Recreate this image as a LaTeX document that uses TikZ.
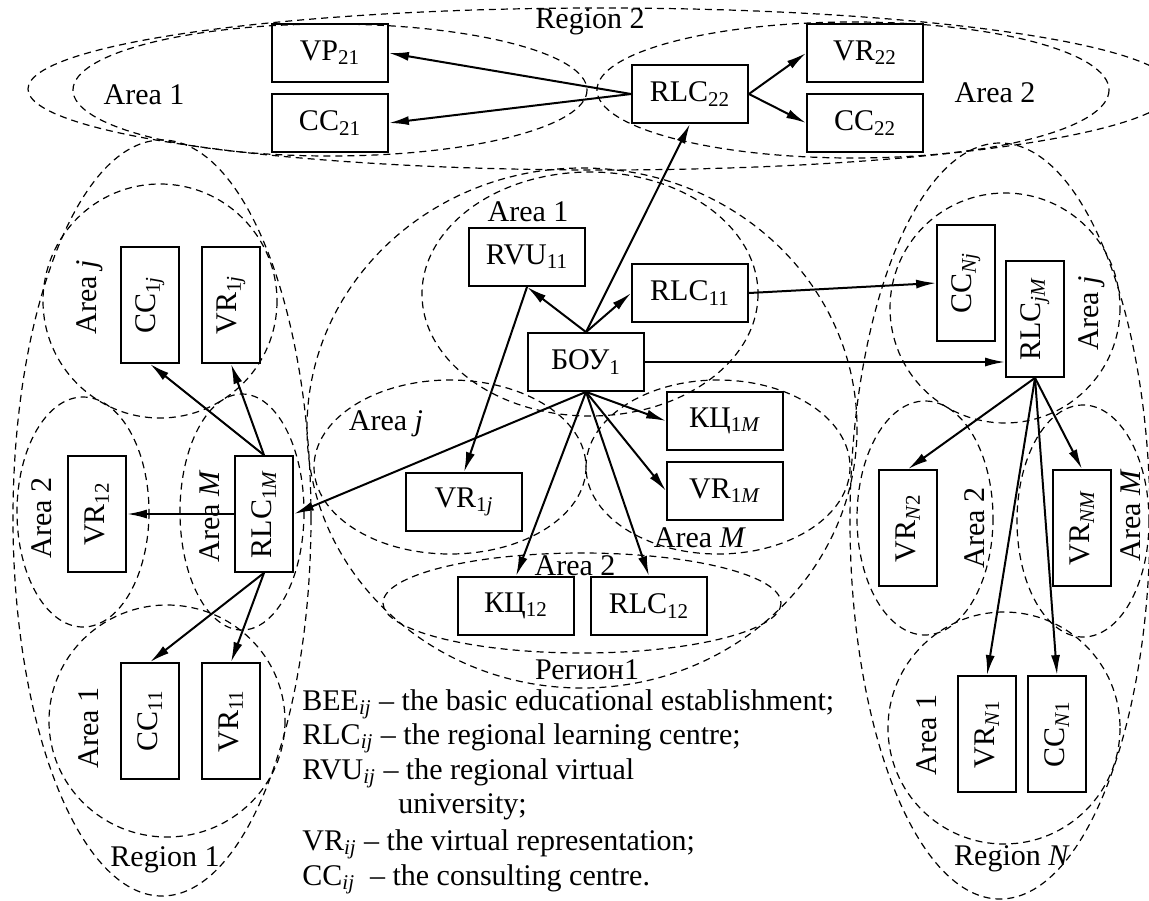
\documentclass[tikz,border=0pt]{standalone}
\usepackage{fontspec}
\setmainfont{Liberation Serif}
\usetikzlibrary{arrows.meta}
\newcommand{\rot}[1]{\rotatebox{90}{#1}}
\newcommand{\sbs}[1]{\textsubscript{#1}}

\begin{document}
\begin{tikzpicture}
        [x=0.5pt,y=-0.5pt,every node/.style={font=\fontsize{15}{17}\selectfont},
        box/.style={draw,line width=0.9pt,minimum width=58pt,minimum height=29pt,inner sep=0pt},
        vbox/.style={draw,line width=0.9pt,minimum width=29pt,minimum height=58pt,inner sep=0pt},
        area/.style={line width=0.6pt,dash pattern=on 3.5pt off 2.5pt},
        link/.style={line width=1pt,-{Latex[length=10pt,width=4.5pt]}},
        note/.style={anchor=base west,inner sep=0pt}]

        \useasboundingbox (0,0) rectangle (1149,900);

        % Region 2
        \draw[area] (601,89) ellipse [x radius=573,y radius=81];
        \draw[area] (330,90) ellipse [x radius=257,y radius=66];
        \draw[area] (853,90) ellipse [x radius=256,y radius=68];
        % Region 1 (left)
        \draw[area] (162,518) ellipse [x radius=149,y radius=378];
        \draw[area] (160,301) ellipse [x radius=117,y radius=117];
        \draw[area] (83,512) ellipse [x radius=66,y radius=115];
        \draw[area] (242,512) ellipse [x radius=62,y radius=118];
        \draw[area] (167,721) ellipse [x radius=118,y radius=116];
        % Region 1 (centre)
        \draw[area] (582,428) ellipse [x radius=275,y radius=260];
        \draw[area] (590,294) ellipse [x radius=168,y radius=122];
        \draw[area] (450,467) ellipse [x radius=136,y radius=87];
        \draw[area] (718,467) ellipse [x radius=132,y radius=87];
        \draw[area] (582,603) ellipse [x radius=199,y radius=50];
        % Region N
        \draw[area] (1000,521) ellipse [x radius=150,y radius=378];
        \draw[area] (1005,308) ellipse [x radius=115,y radius=115];
        \draw[area] (925,518) ellipse [x radius=68,y radius=117];
        \draw[area] (1083,521) ellipse [x radius=66,y radius=116];
        \draw[area] (1004,728) ellipse [x radius=116,y radius=116];

        \node (r2) at (590,22) {Region 2};
        \node (a21) at (144,95) {Area 1};
        \node (a22) at (995,93) {Area 2};
        \node[rotate=90] (a1j) at (90,297) {Area \textit{j}};
        \node[rotate=90] (a12) at (42,518) {Area 2};
        \node[rotate=90] (a1m) at (210,516) {Area \textit{M}};
        \node[rotate=90] (a11) at (89,728) {Area 1};
        \node (r1) at (165,860) {Region 1};
        \node (c1) at (528,212) {Area 1};
        \node (cj) at (386,424) {Area \textit{j}};
        \node (cm) at (700,538) {Area \textit{M}};
        \node (c2) at (575,566) {Area 2};
        \node (rc) at (587,670) {Регион1};
        \node[rotate=90] (anj) at (1092,313) {Area \textit{j}};
        \node[rotate=90] (an2) at (975,528) {Area 2};
        \node[rotate=90] (anm) at (1131,515) {Area \textit{M}};
        \node[rotate=90] (an1) at (927,735) {Area 1};
        \node (rn) at (1012,859) {Region \textit{N}};

        \node[box] (vp21) at (330,53) {VP\sbs{21}};
        \node[box] (cc21) at (330,123) {CC\sbs{21}};
        \node[box] (rlc22) at (690,94) {RLC\sbs{22}};
        \node[box] (vr22) at (865,53) {VR\sbs{22}};
        \node[box] (cc22) at (865,123) {CC\sbs{22}};
        \node[box] (rvu11) at (527,257) {RVU\sbs{11}};
        \node[box] (rlc11) at (690,293) {RLC\sbs{11}};
        \node[box] (boy1) at (586,362) {БОУ\sbs{1}};
        \node[box] (kc1m) at (725,421) {КЦ\sbs{1\textit{M}}};
        \node[box] (vr1m) at (725,491) {VR\sbs{1\textit{M}}};
        \node[box] (vr1j) at (464,502) {VR\sbs{1\textit{j}}};
        \node[box] (kc12) at (516,606) {КЦ\sbs{12}};
        \node[box] (rlc12) at (649,606) {RLC\sbs{12}};

        \node[vbox] (cc1j) at (150,305) {\rot{CC\sbs{1\textit{j}}}};
        \node[vbox] (lvr1j) at (231,305) {\rot{VR\sbs{1\textit{j}}}};
        \node[vbox] (vr12) at (97,514) {\rot{VR\sbs{12}}};
        \node[vbox] (rlc1m) at (264,514) {\rot{RLC\sbs{1\textit{M}}}};
        \node[vbox] (cc11) at (150,721) {\rot{CC\sbs{11}}};
        \node[vbox] (vr11) at (231,721) {\rot{VR\sbs{11}}};

        \node[vbox] (ccnj) at (966,283) {\rot{CC\sbs{\textit{Nj}}}};
        \node[vbox] (rlcjm) at (1035,319) {\rot{RLC\sbs{\textit{jM}}}};
        \node[vbox] (vrn2) at (908,528) {\rot{VR\sbs{\textit{N}2}}};
        \node[vbox] (vrnm) at (1082,528) {\rot{VR\sbs{\textit{NM}}}};
        \node[vbox] (vrn1) at (987,734) {\rot{VR\sbs{\textit{N}1}}};
        \node[vbox] (ccn1) at (1057,734) {\rot{CC\sbs{\textit{N}1}}};

        \draw[link] (rlc22.west) -- (vp21.east);
        \draw[link] (rlc22.west) -- (cc21.east);
        \draw[link] (rlc22.east) -- (vr22.west);
        \draw[link] (rlc22.east) -- (cc22.west);
        \draw[link] (boy1.north) -- (rlc22.south);
        \draw[link] (boy1.north) -- (rvu11.south);
        \draw[link] (boy1.north) -- (rlc11.west);
        \draw[link] (rlc11.east) -- (ccnj.west);
        \draw[link] (boy1.east) -- (boy1.east -| rlcjm.west);
        \draw[link] (boy1.south) -- (rlc1m.east);
        \draw[link] (boy1.south) -- (kc1m.west);
        \draw[link] (boy1.south) -- (vr1m.west);
        \draw[link] (boy1.south) -- (kc12.north);
        \draw[link] (boy1.south) -- (rlc12.north);
        \draw[link] (rvu11.south) -- (vr1j.north);
        \draw[link] (rlc1m.north) -- (cc1j.south);
        \draw[link] (rlc1m.north) -- (lvr1j.south);
        \draw[link] (rlc1m.west) -- (vr12.east);
        \draw[link] (rlc1m.south) -- (cc11.north);
        \draw[link] (rlc1m.south) -- (vr11.north);
        \draw[link] (rlcjm.south) -- (vrn2.north);
        \draw[link] (rlcjm.south) -- (vrnm.north);
        \draw[link] (rlcjm.south) -- (vrn1.north);
        \draw[link] (rlcjm.south) -- (ccn1.north);

        \node[note] (bee) at (302,710) {BEE\sbs{\textit{ij}} – the basic educational establishment;};
        \node[note] (rlc) at (302,744) {RLC\sbs{\textit{ij}} – the regional learning centre;};
        \node[note] (rvu) at (302,779) {RVU\sbs{\textit{ij}} – the regional virtual};
        \node[note] (univ) at (398,813) {university;};
        \node[note] (vr) at (302,850) {VR\sbs{\textit{ij}} – the virtual representation;};
        \node[note] (cc) at (302,885) {CC\sbs{\textit{ij}}\ \ – the consulting centre.};

      \end{tikzpicture}
\end{document}
